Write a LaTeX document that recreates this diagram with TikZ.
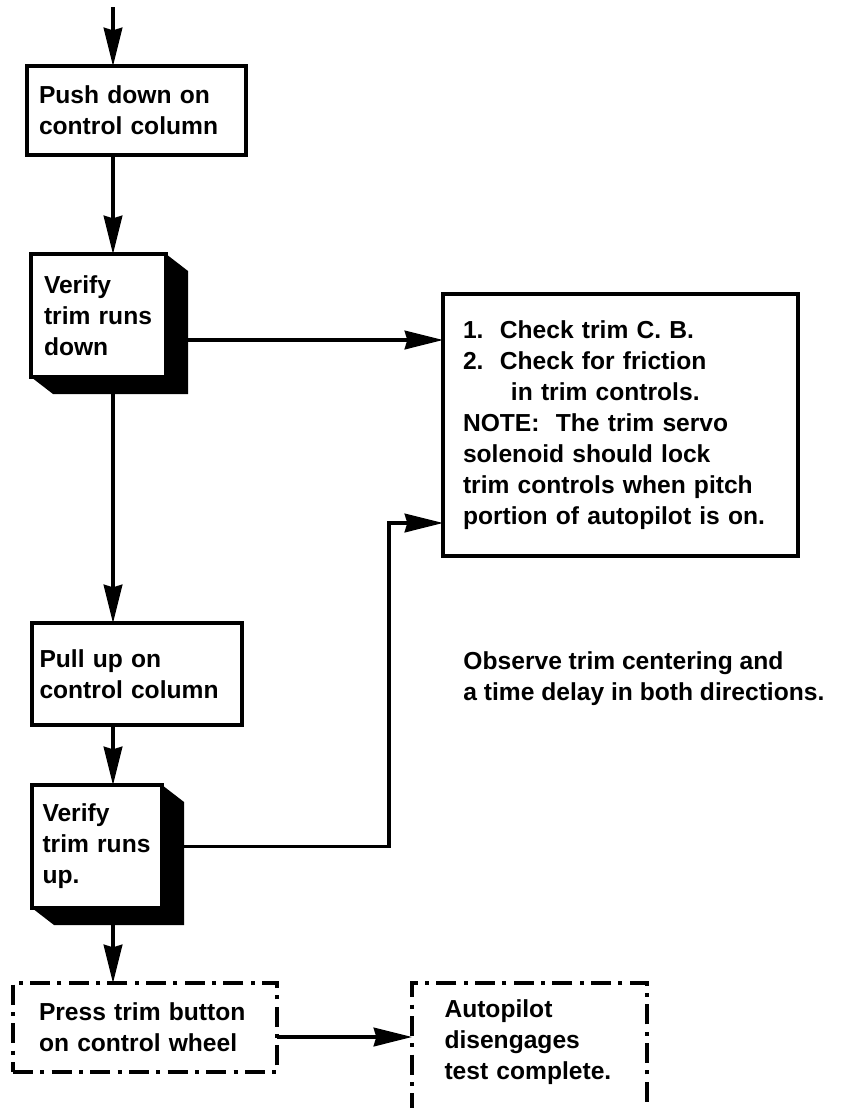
\documentclass[tikz,border=0pt]{standalone}
\usepackage{fontspec}
\setmainfont{Liberation Sans}
\usetikzlibrary{positioning,arrows.meta}

\begin{document}
\begin{tikzpicture}[
    thick,
    boxtext/.style={font=\bfseries\fontsize{21}{26.5}\selectfont},
    stepbox/.style={boxtext, rectangle, draw, line width=3.2pt, fill=white, align=left, inner xsep=0pt, outer sep=0pt},
    dashbox/.style={stepbox, line width=2.6pt, dash pattern=on 0.6cm off 0.22cm on 0.12cm off 0.22cm},
    arrow/.style={-{Stealth[length=1.15cm, width=0.56cm, inset=0.08cm]}, line width=2.8pt}
]
    \useasboundingbox (0,0) rectangle (25.65,-33.24);
    \clip (0,0) rectangle (25.65,-33.24);

    \coordinate (top) at (3.39,-0.21);
    \node (push) [stepbox, minimum width=6.57cm, minimum height=2.67cm, text width=5.85cm] at (4.095,-3.315) {Push down on\\control column};
    \node (vdown) [stepbox, minimum width=4.05cm, minimum height=3.69cm, text width=3.27cm, below=2.97cm of push, xshift=-1.14cm] {Verify\\trim runs\\down};
    \node (check) [stepbox, minimum width=10.65cm, minimum height=7.86cm, text width=9.45cm, right=8.31cm of vdown, yshift=-3.285cm] {1.\ \ Check trim C. B.\\2.\ \ Check for friction\\\hspace*{1.95em}in trim controls.\\NOTE:\ \ The trim servo\\solenoid should lock\\trim controls when pitch\\portion of autopilot is on.};
    \node (pull) [stepbox, minimum width=6.3cm, minimum height=3.06cm, text width=5.85cm, below=7.38cm of vdown, xshift=1.155cm] {Pull up on\\control column};
    \node (vup) [stepbox, minimum width=3.9cm, minimum height=3.69cm, text width=3.27cm, below=1.8cm of pull, xshift=-1.2cm] {Verify\\trim runs\\up.};
    \node (press) [dashbox, minimum width=7.92cm, minimum height=2.67cm, text width=6.36cm, below=2.25cm of vup, xshift=1.44cm] {Press trim button\\on control wheel};
    \node (autopilot) [dashbox, minimum width=7.05cm, text width=5.1cm, inner ysep=0.51cm, anchor=north west, xshift=4.05cm] at (press.north east) {Autopilot\\disengages\\test complete.\\\strut};
    \node (observe) [boxtext, align=left, inner sep=0pt, below right=2.85cm and 0.6cm of check.south west] {Observe trim centering and\\a time delay in both directions.};

    % raised look of the two check boxes
    \foreach \n in {vdown,vup}
        \fill (\n.north east) -- ++(0.66,-0.51) -- ([shift={(0.66,-0.51)}]\n.south east) -- ([shift={(0.66,-0.51)}]\n.south west) -- (\n.south west) -- (\n.south east) -- cycle;

    \draw [arrow] (top) -- (top |- push.north);
    \draw [arrow] (push.south -| top) -- (vdown.north -| top);
    \draw [arrow] ([yshift=-0.735cm]vdown.east) -- ([yshift=-0.735cm]vdown.east -| check.west);
    \draw [arrow] (vdown.south -| top) -- (pull.north -| top);
    \draw [arrow] (pull.south -| top) -- (vup.north -| top);
    \draw [arrow] (vup.east) -| ([xshift=-1.62cm, yshift=-2.94cm]check.west) -- ([yshift=-2.94cm]check.west);
    \draw [arrow] (vup.south -| top) -- (press.north -| top);
    \draw [arrow] ([yshift=-0.285cm]press.east) -- ([yshift=-0.285cm]press.east -| autopilot.west);
\end{tikzpicture}
\end{document}
